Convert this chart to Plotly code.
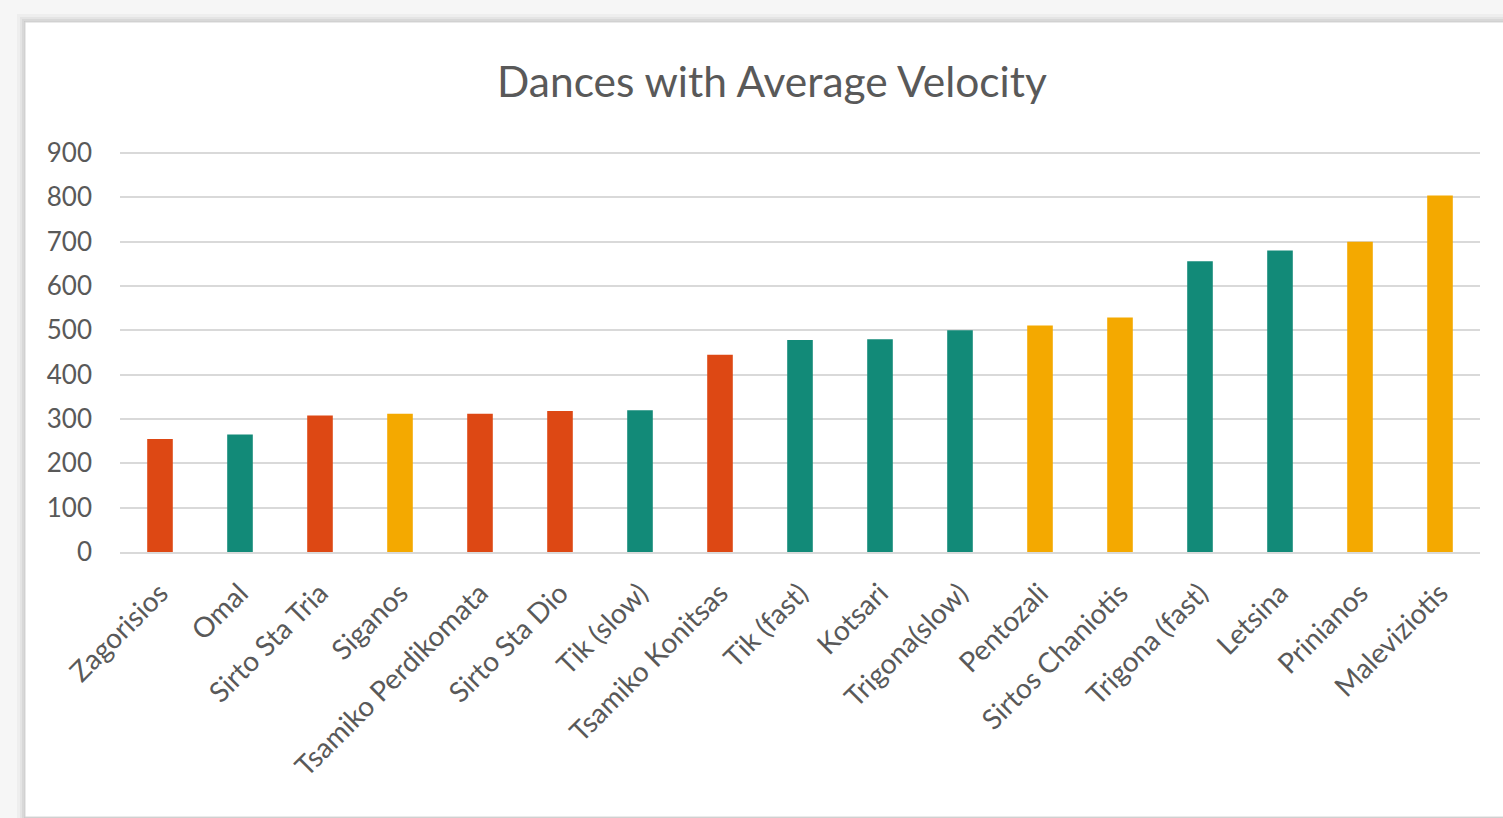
import plotly.graph_objects as go

# Average velocity per dance, sorted ascending
dances = [
    "Zagorisios", "Omal", "Sirto Sta Tria", "Siganos", "Tsamiko Perdikomata",
    "Sirto Sta Dio", "Tik (slow)", "Tsamiko Konitsas", "Tik (fast)", "Kotsari",
    "Trigona(slow)", "Pentozali", "Sirtos Chaniotis", "Trigona (fast)",
    "Letsina", "Prinianos", "Maleviziotis",
]
velocity = [255, 265, 308, 312, 312, 318, 320, 445, 478, 480,
            500, 511, 529, 656, 680, 700, 804]
region = ["red", "teal", "red", "amber", "red", "red", "teal", "red", "teal", "teal",
          "teal", "amber", "amber", "teal", "teal", "amber", "amber"]
y_ticks = [0, 100, 200, 300, 400, 500, 600, 700, 800, 900]

palette = {"red": "#DD4814", "teal": "#128A78", "amber": "#F4A900"}

W, H = 1503, 818
ML, MR, MT, MB = 120, 23, 151, 266
PW, PH = W - ML - MR, H - MT - MB
Y_TOP = 900 * PH / (H - 153 - MB)  # a little headroom so the 900 gridline shows


def px_x(p):
    return (p - ML) / PW


def px_y(p):
    return (H - MB - p) / PH


fig = go.Figure(
    go.Bar(
        x=dances,
        y=velocity,
        marker=dict(color=[palette[r] for r in region], line=dict(width=0)),
        width=0.32,
        hoverinfo="x+y",
    )
)

# card with soft shadow
shapes = []
for off, op in [(8, 0.03), (5, 0.04), (3, 0.05), (1, 0.06)]:
    shapes.append(dict(
        type="rect", xref="paper", yref="paper", layer="below",
        x0=px_x(25 - off), x1=px_x(W + 20), y0=px_y(817 + off), y1=px_y(22 - off),
        fillcolor=f"rgba(0,0,0,{op})", line=dict(width=0),
    ))
shapes.append(dict(
    type="rect", xref="paper", yref="paper", layer="below",
    x0=px_x(25), x1=px_x(W + 20), y0=px_y(817), y1=px_y(22),
    fillcolor="white", line=dict(color="#d6d6d6", width=1),
))

font_family = "Lato, 'Open Sans', sans-serif"

fig.update_layout(
    width=W, height=H,
    margin=dict(l=ML, r=MR, t=MT, b=MB),
    paper_bgcolor="#f6f6f6",
    plot_bgcolor="white",
    shapes=shapes,
    showlegend=False,
    font=dict(family=font_family, color="#595959"),
    title=dict(
        text="Dances with Average Velocity",
        x=px_x(772), xref="paper", xanchor="center",
        y=1 - 82 / H, yref="container", yanchor="middle",
        font=dict(size=42.5, color="#595959", family=font_family),
    ),
    xaxis=dict(
        type="category",
        tickangle=-45,
        tickfont=dict(size=28, color="#595959"),
        showgrid=False,
        showline=True, linecolor="#d9d9d9", linewidth=1.5,
        ticks="",
        ticklabelstandoff=12,
    ),
    yaxis=dict(
        range=[0, Y_TOP],
        tickvals=y_ticks,
        tickfont=dict(size=26, color="#595959"),
        showgrid=True, gridcolor="#d9d9d9", gridwidth=1.5,
        zeroline=False,
        showline=False,
        ticks="",
        ticklabelstandoff=27,
    ),
)

fig.write_html("out.html")
